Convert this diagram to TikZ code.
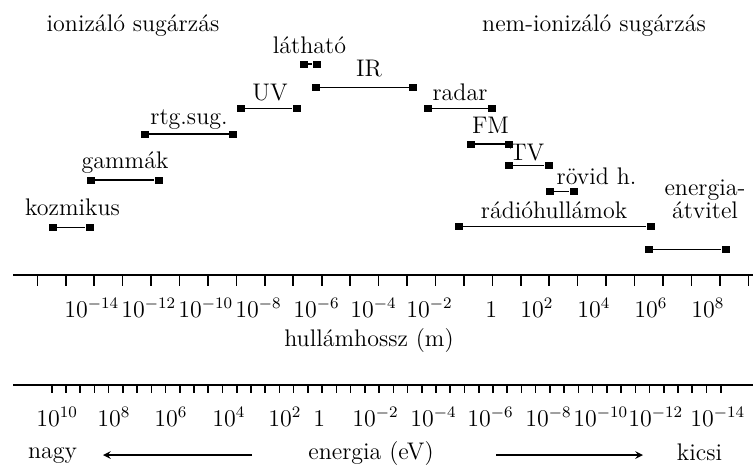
\documentclass[tikz,border=0pt]{standalone}
\usepackage{fontspec}
\usepackage{tikz}
\usetikzlibrary{arrows, positioning}
\tikzset{
	>=stealth, % vastag nyilhegy
	every node/.style={font=\fontsize{12}{11.4}\selectfont, inner sep=0pt}, % betumeret
	veg/.style={fill, minimum width=4pt, minimum height=3.5pt}, % a savok vegen levo negyzetek
	sav/.style={line width=0.7pt}, % a savok vonala
	tengely/.style={line width=1pt}, % skalak
	osztas/.style={line width=0.8pt}, % osztasok
	felirat/.style={anchor=base} % feliratok alapvonalra
}

\begin{document}
\begin{tikzpicture}[x=0.5pt, y=-0.5pt]
	\useasboundingbox (0,0) rectangle (753,466);
	% fejlec
	\node[felirat] (ion) at (133,31) {ionizáló sugárzás};
	\node[felirat] (nemion) at (594,31) {nem-ionizáló sugárzás};
	% savok
	\foreach \n/\xa/\xb/\y in {lat/303.5/316.5/64, ir/316/413/87.3, uv/241/296.5/108.3,
			rtg/145/233/134, gam/90.5/158.5/180, koz/53/89.5/227.7, rad/428/492/108.3,
			fm/471/509/144, tv/509/548.5/165.7, rov/549.5/573.5/191.7,
			radio/459/650.5/226.7, en/649/725.5/249.3}
	{
		\node[veg] (\n1) at (\xa,\y) {};
		\node[veg] (\n2) at (\xb,\y) {};
		\draw[sav] (\n1) -- (\n2);
	}
	\node[felirat] (latlab) at (309.5,53) {látható};
	\node[felirat] (irlab) at (369,76) {IR};
	\node[felirat] (uvlab) at (270,100) {UV};
	\node[felirat] (rtglab) at (189,124) {rtg.sug.};
	\node[felirat] (gamlab) at (125,168) {gammák};
	\node[felirat] (kozlab) at (72.5,215) {kozmikus};
	\node[felirat] (radlab) at (460,100) {radar};
	\node[felirat] (fmlab) at (490.5,133) {FM};
	\node[felirat] (tvlab) at (527,160) {TV};
	\node[felirat] (rovlab) at (596.5,184) {rövid h.};
	\node[felirat] (radiolab) at (554,218) {rádióhullámok};
	\node[felirat, align=center] (enlab) at (705,218) {energia-\\átvitel};
	% hullamhossz skala
	\coordinate (h0) at (13,275);
	\coordinate (h1) at (753,275);
	\draw[tengely] (h0) -- (h1);
	\foreach \i in {0,...,25}
		\draw[osztas] (37.3+28.44*\i,275) -- ++(0,11);
	\foreach \e/\x [count=\k] in {-14/64, -12/121, -10/178, -8/235, -6/293, -4/350,
			-2/406, 2/520, 4/577, 6/634, 8/691}
		\node[anchor=base west] (hl\k) at (\x,317) {$10^{\e}$};
	\node[anchor=base west] (hlegy) at (485,317) {1};
	\node[felirat] (hullam) at (369,346) {hullámhossz (m)};
	% energia skala
	\coordinate (e0) at (13,385);
	\coordinate (e1) at (753,385);
	\draw[tengely] (e0) -- (e1);
	\foreach \i in {0,...,47}
		\draw[osztas] (51.7+14.234*\i,385) -- ++(0,8);
	\foreach \e/\x [count=\k] in {10/36, 8/97, 6/154, 4/212, 2/268, -2/352, -4/410,
			-6/467, -8/525, -10/573, -12/628, -14/690}
		\node[anchor=base west] (el\k) at (\x,426) {$10^{\e}$};
	\node[anchor=base west] (elegy) at (313,426) {1};
	\node[felirat] (energia) at (371,459) {energia (eV)};
	\node[felirat] (nagy) at (52.5,458) {nagy};
	\node[felirat] (kicsi) at (699.5,460) {kicsi};
	\coordinate (bal1) at (252,455);
	\coordinate (bal2) at (103,455);
	\coordinate (jobb1) at (496,455);
	\coordinate (jobb2) at (643,455);
	\draw[->, line width=0.7pt] (bal1) -- (bal2);
	\draw[->, line width=0.7pt] (jobb1) -- (jobb2);
\end{tikzpicture}
\end{document}
